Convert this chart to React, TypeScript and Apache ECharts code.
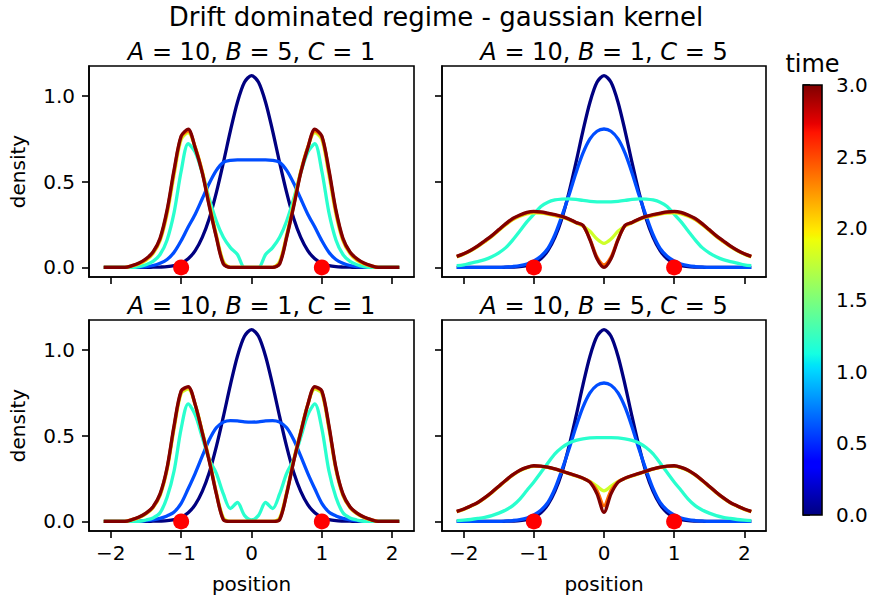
import { useEffect, useRef } from 'react';
import * as echarts from 'echarts';

// positions sampled along the x axis
const positions = [
  -2.1, -2.0, -1.9, -1.8, -1.7, -1.6, -1.5, -1.4, -1.3, -1.2, -1.1, -1.0, -0.9, -0.8, -0.7, -0.6, -0.5, -0.4, -0.3, -0.2, -0.1,
  0, 0.1, 0.2, 0.3, 0.4, 0.5, 0.6, 0.7, 0.8, 0.9, 1.0, 1.1, 1.2, 1.3, 1.4, 1.5, 1.6, 1.7, 1.8, 1.9, 2.0, 2.1,
];

// t = 0 (same initial condition in every panel)
const t0Navy = [0,0,0,0,0,0,0,0.001,0.002,0.004,0.010,0.024,0.050,0.098,0.175,0.285,0.435,0.610,0.795,0.962,1.078,1.117,1.078,0.962,0.795,0.610,0.435,0.285,0.175,0.098,0.050,0.024,0.010,0.004,0.002,0.001,0,0,0,0,0,0,0];

// Panel A=10, B=5, C=1
const tlBlue = [0,0,0,0,0,0.002,0.005,0.011,0.024,0.046,0.088,0.155,0.235,0.31,0.40,0.49,0.565,0.612,0.624,0.626,0.626,0.626,0.626,0.626,0.624,0.612,0.565,0.49,0.40,0.31,0.235,0.155,0.088,0.046,0.024,0.011,0.005,0.002,0,0,0,0,0];
const tlCyan = [0,0,0,0,0,0.005,0.015,0.035,0.075,0.16,0.32,0.56,0.72,0.67,0.55,0.40,0.27,0.175,0.115,0.075,0,0,0,0.075,0.115,0.175,0.27,0.40,0.55,0.67,0.72,0.56,0.32,0.16,0.075,0.035,0.015,0.005,0,0,0,0,0];
const tlYellow = [0,0,0,0,0.008,0.02,0.04,0.08,0.155,0.31,0.54,0.745,0.785,0.70,0.56,0.375,0.19,0.035,0,0,0,0,0,0,0,0.035,0.19,0.375,0.56,0.70,0.785,0.745,0.54,0.31,0.155,0.08,0.04,0.02,0.008,0,0,0,0];
const tlOrange = [0,0,0,0,0.009,0.023,0.046,0.086,0.163,0.325,0.56,0.76,0.795,0.70,0.555,0.362,0.18,0.025,0,0,0,0,0,0,0,0.025,0.18,0.362,0.555,0.70,0.795,0.76,0.56,0.325,0.163,0.086,0.046,0.023,0.009,0,0,0,0];
const tlRed = [0,0,0,0,0.01,0.025,0.05,0.09,0.17,0.335,0.57,0.765,0.805,0.695,0.55,0.355,0.175,0.02,0,0,0,0,0,0,0,0.02,0.175,0.355,0.55,0.695,0.805,0.765,0.57,0.335,0.17,0.09,0.05,0.025,0.01,0,0,0,0];

// t = 0.6 for the C=5 panels
const rBlue = [0,0,0,0,0,0,0,0.002,0.005,0.01,0.02,0.038,0.065,0.11,0.19,0.30,0.42,0.55,0.665,0.748,0.793,0.806,0.793,0.748,0.665,0.55,0.42,0.30,0.19,0.11,0.065,0.038,0.02,0.01,0.005,0.002,0,0,0,0,0,0,0];

// Panel A=10, B=1, C=5
const trCyan = [0.01,0.015,0.025,0.034,0.045,0.062,0.085,0.115,0.16,0.212,0.265,0.31,0.355,0.38,0.393,0.398,0.399,0.396,0.39,0.385,0.382,0.381,0.382,0.385,0.39,0.396,0.399,0.398,0.393,0.38,0.355,0.31,0.265,0.212,0.16,0.115,0.085,0.062,0.045,0.034,0.025,0.015,0.01];
const trYellow = [0.06,0.077,0.097,0.121,0.15,0.18,0.215,0.248,0.278,0.298,0.312,0.318,0.316,0.31,0.302,0.292,0.278,0.26,0.24,0.21,0.165,0.14,0.165,0.21,0.24,0.26,0.278,0.292,0.302,0.31,0.316,0.318,0.312,0.298,0.278,0.248,0.215,0.18,0.15,0.121,0.097,0.077,0.06];
const trOrange = [0.063,0.079,0.099,0.124,0.153,0.183,0.218,0.252,0.282,0.302,0.317,0.323,0.32,0.313,0.305,0.295,0.28,0.261,0.243,0.165,0.06,0.015,0.06,0.165,0.243,0.261,0.28,0.295,0.305,0.313,0.32,0.323,0.317,0.302,0.282,0.252,0.218,0.183,0.153,0.124,0.099,0.079,0.063];
const trRed = [0.064,0.08,0.10,0.125,0.155,0.185,0.22,0.255,0.285,0.305,0.32,0.326,0.323,0.316,0.308,0.297,0.282,0.262,0.245,0.16,0.05,0,0.05,0.16,0.245,0.262,0.282,0.297,0.308,0.316,0.323,0.326,0.32,0.305,0.285,0.255,0.22,0.185,0.155,0.125,0.10,0.08,0.064];

// Panel A=10, B=1, C=1
const blBlue = [0,0,0,0,0,0,0.004,0.009,0.018,0.032,0.055,0.105,0.19,0.28,0.38,0.475,0.545,0.578,0.587,0.585,0.58,0.578,0.58,0.585,0.587,0.578,0.545,0.475,0.38,0.28,0.19,0.105,0.055,0.032,0.018,0.009,0.004,0,0,0,0,0,0];
const blCyan = [0,0,0,0,0,0,0.008,0.02,0.05,0.14,0.295,0.54,0.685,0.62,0.49,0.36,0.28,0.16,0.075,0.11,0.035,0.008,0.035,0.11,0.075,0.16,0.28,0.36,0.49,0.62,0.685,0.54,0.295,0.14,0.05,0.02,0.008,0,0,0,0,0,0];
const blYellow = [0,0,0,0,0.009,0.022,0.044,0.08,0.15,0.30,0.54,0.745,0.77,0.68,0.525,0.36,0.17,0.02,0,0,0,0,0,0,0,0.02,0.17,0.36,0.525,0.68,0.77,0.745,0.54,0.30,0.15,0.08,0.044,0.022,0.009,0,0,0,0];
const blOrange = [0,0,0,0,0.01,0.024,0.047,0.083,0.156,0.308,0.552,0.755,0.78,0.68,0.52,0.354,0.163,0.013,0,0,0,0,0,0,0,0.013,0.163,0.354,0.52,0.68,0.78,0.755,0.552,0.308,0.156,0.083,0.047,0.024,0.01,0,0,0,0];
const blRed = [0,0,0,0,0.01,0.025,0.048,0.085,0.16,0.314,0.56,0.76,0.785,0.68,0.517,0.35,0.16,0.01,0,0,0,0,0,0,0,0.01,0.16,0.35,0.517,0.68,0.785,0.76,0.56,0.314,0.16,0.085,0.048,0.025,0.01,0,0,0,0];

// Panel A=10, B=5, C=5
const brCyan = [0.004,0.007,0.011,0.017,0.024,0.034,0.048,0.066,0.092,0.13,0.18,0.23,0.285,0.34,0.393,0.43,0.457,0.472,0.481,0.486,0.488,0.488,0.488,0.486,0.481,0.472,0.457,0.43,0.393,0.34,0.285,0.23,0.18,0.13,0.092,0.066,0.048,0.034,0.024,0.017,0.011,0.007,0.004];
const brYellow = [0.056,0.07,0.088,0.108,0.135,0.167,0.202,0.237,0.269,0.295,0.312,0.321,0.32,0.314,0.304,0.291,0.278,0.265,0.25,0.232,0.205,0.178,0.205,0.232,0.25,0.265,0.278,0.291,0.304,0.314,0.32,0.321,0.312,0.295,0.269,0.237,0.202,0.167,0.135,0.108,0.088,0.07,0.056];
const brOrange = [0.057,0.071,0.089,0.109,0.137,0.169,0.204,0.239,0.271,0.297,0.314,0.323,0.321,0.315,0.305,0.292,0.279,0.266,0.251,0.23,0.18,0.09,0.18,0.23,0.251,0.266,0.279,0.292,0.305,0.315,0.321,0.323,0.314,0.297,0.271,0.239,0.204,0.169,0.137,0.109,0.089,0.071,0.057];
const brRed = [0.058,0.072,0.09,0.11,0.138,0.17,0.205,0.24,0.272,0.298,0.315,0.324,0.322,0.316,0.306,0.293,0.28,0.267,0.252,0.228,0.16,0.052,0.16,0.228,0.252,0.267,0.28,0.293,0.306,0.316,0.322,0.324,0.315,0.298,0.272,0.24,0.205,0.17,0.138,0.11,0.09,0.072,0.058];

// parameters per panel
const paramA = [10, 10, 10, 10];
const paramB = [5, 1, 1, 5];
const paramC = [1, 5, 1, 5];

// snapshot times and their jet colours
const timeSteps = [0, 0.6, 1.2, 1.8, 2.4, 3.0];
const timeColors = ['#000080', '#004dff', '#29ffce', '#ceff29', '#ff6800', '#800000'];

// red markers (sources)
const sourceX = [-1, 1];
const sourceY = [0, 0];

// ticks
const xTicks = [-2, -1, 0, 1, 2];
const yTicks = [0, 0.5, 1.0];

const panelCurves = [
  [t0Navy, tlBlue, tlCyan, tlYellow, tlOrange, tlRed],
  [t0Navy, rBlue, trCyan, trYellow, trOrange, trRed],
  [t0Navy, blBlue, blCyan, blYellow, blOrange, blRed],
  [t0Navy, rBlue, brCyan, brYellow, brOrange, brRed],
];

const FONT = 'DejaVu Sans';

const grids = [
  { left: 89, top: 66, width: 325, height: 211 },
  { left: 442, top: 66, width: 324, height: 211 },
  { left: 89, top: 320, width: 325, height: 211 },
  { left: 442, top: 320, width: 324, height: 211 },
];

const fmtX = (v: number) => (v < 0 ? '\u2212' + Math.abs(v) : String(v));

export default function App() {
  const ref = useRef<HTMLDivElement>(null);
  useEffect(() => {
    if (!ref.current) return;
    const chart = echarts.init(ref.current, undefined, { renderer: 'svg' });

    const gridOpts: any[] = grids.map((g) => ({
      ...g,
      show: true,
      borderColor: '#000',
      borderWidth: 1.6,
      backgroundColor: 'transparent',
      containLabel: false,
    }));
    gridOpts.push({ left: 803, top: 85, width: 19, height: 430, show: false });

    const xAxes: any[] = grids.map((_, i) => ({
      type: 'value',
      gridIndex: i,
      min: -2.31,
      max: 2.31,
      axisLine: { show: true, onZero: false, lineStyle: { color: '#000', width: 1.6 } },
      axisTick: { show: true, length: 7, lineStyle: { color: '#000', width: 1.6 }, customValues: xTicks },
      axisLabel: {
        show: i >= 2,
        customValues: xTicks,
        formatter: fmtX,
        color: '#000',
        fontSize: 20,
        fontFamily: FONT,
        margin: 12,
      },
      splitLine: { show: false },
    }));
    xAxes.push({ type: 'value', gridIndex: 4, min: 0, max: 1, show: false });

    const yAxes: any[] = grids.map((_, i) => ({
      type: 'value',
      gridIndex: i,
      min: -0.056,
      max: 1.173,
      axisLine: { show: true, onZero: false, lineStyle: { color: '#000', width: 1.6 } },
      axisTick: { show: true, length: 7, lineStyle: { color: '#000', width: 1.6 }, customValues: yTicks },
      axisLabel: {
        show: i % 2 === 0,
        customValues: yTicks,
        formatter: (v: number) => v.toFixed(1),
        color: '#000',
        fontSize: 20,
        fontFamily: FONT,
        margin: 14,
      },
      splitLine: { show: false },
    }));
    yAxes.push({
      type: 'value',
      gridIndex: 4,
      position: 'right',
      min: 0,
      max: 3,
      interval: 0.5,
      axisLine: { show: false },
      axisTick: { show: true, length: 7, lineStyle: { color: '#000', width: 1.6 } },
      axisLabel: {
        formatter: (v: number) => v.toFixed(1),
        color: '#000',
        fontSize: 20,
        fontFamily: FONT,
        margin: 14,
      },
      splitLine: { show: false },
    });

    const series: any[] = [];
    panelCurves.forEach((curves, p) => {
      curves.forEach((vals, k) => {
        series.push({
          type: 'line',
          name: 't=' + timeSteps[k],
          xAxisIndex: p,
          yAxisIndex: p,
          data: positions.map((x, j) => [x, vals[j]]),
          showSymbol: false,
          smooth: 0.3,
          silent: true,
          lineStyle: { width: 3.3, color: timeColors[k], opacity: 1 },
          itemStyle: { color: timeColors[k] },
          z: 2 + k,
        });
      });
      series.push({
        type: 'scatter',
        xAxisIndex: p,
        yAxisIndex: p,
        data: sourceX.map((x, j) => [x, sourceY[j]]),
        symbolSize: 16,
        itemStyle: { color: '#ff0000', opacity: 1 },
        silent: true,
        clip: false,
        z: 20,
      });
    });

    const jetStops = [
      { offset: 0, color: 'rgb(0,0,128)' },
      { offset: 0.11, color: 'rgb(0,0,255)' },
      { offset: 0.125, color: 'rgb(0,0,255)' },
      { offset: 0.34, color: 'rgb(0,219,255)' },
      { offset: 0.35, color: 'rgb(0,230,247)' },
      { offset: 0.375, color: 'rgb(21,255,226)' },
      { offset: 0.64, color: 'rgb(239,255,8)' },
      { offset: 0.65, color: 'rgb(247,245,0)' },
      { offset: 0.66, color: 'rgb(255,236,0)' },
      { offset: 0.89, color: 'rgb(255,19,0)' },
      { offset: 0.91, color: 'rgb(232,0,0)' },
      { offset: 1, color: 'rgb(128,0,0)' },
    ];

    const titleText = (i: number) =>
      `{i|A} = ${paramA[i]}, {i|B} = ${paramB[i]}, {i|C} = ${paramC[i]}`;
    const titleCenters = [
      [251.5, 52],
      [604, 52],
      [251.5, 306],
      [604, 306],
    ];

    const graphics: any[] = [
      {
        type: 'text',
        x: 436,
        y: 17,
        style: {
          text: 'Drift dominated regime - gaussian kernel',
          fontSize: 26,
          fontFamily: FONT,
          fill: '#000',
          align: 'center',
          verticalAlign: 'middle',
          textAlign: 'center',
          textVerticalAlign: 'middle',
        },
      },
      ...titleCenters.map((c, i) => ({
        type: 'text',
        x: c[0],
        y: c[1],
        style: {
          text: titleText(i),
          fontSize: 24,
          fontFamily: FONT,
          fill: '#000',
          align: 'center',
          verticalAlign: 'middle',
          textAlign: 'center',
          textVerticalAlign: 'middle',
          rich: {
            i: { fontStyle: 'italic', fontSize: 24, fontFamily: FONT, fill: '#000' },
          },
        },
      })),
      ...[171.5, 425.5].map((cy) => ({
        type: 'text',
        x: 18,
        y: cy,
        rotation: Math.PI / 2,
        style: {
          text: 'density',
          fontSize: 20,
          fontFamily: FONT,
          fill: '#000',
          align: 'center',
          verticalAlign: 'middle',
          textAlign: 'center',
          textVerticalAlign: 'middle',
        },
      })),
      ...[251.5, 604].map((cx) => ({
        type: 'text',
        x: cx,
        y: 584,
        style: {
          text: 'position',
          fontSize: 20,
          fontFamily: FONT,
          fill: '#000',
          align: 'center',
          verticalAlign: 'middle',
          textAlign: 'center',
          textVerticalAlign: 'middle',
        },
      })),
      {
        type: 'text',
        x: 812.5,
        y: 64,
        style: {
          text: 'time',
          fontSize: 24,
          fontFamily: FONT,
          fill: '#000',
          align: 'center',
          verticalAlign: 'middle',
          textAlign: 'center',
          textVerticalAlign: 'middle',
        },
      },
      {
        type: 'rect',
        shape: { x: 803, y: 85, width: 19, height: 430 },
        style: {
          fill: new echarts.graphic.LinearGradient(0, 1, 0, 0, jetStops),
          stroke: '#000',
          lineWidth: 1.6,
        },
        z: 1,
      },
    ];

    chart.setOption({
      animation: false,
      backgroundColor: '#fff',
      grid: gridOpts,
      xAxis: xAxes,
      yAxis: yAxes,
      series,
      graphic: graphics,
    });

    return () => chart.dispose();
  }, []);

  return (
    <div
      ref={ref}
      style={{ position: 'absolute', left: 0, top: 0, width: 872, height: 596 }}
    />
  );
}
